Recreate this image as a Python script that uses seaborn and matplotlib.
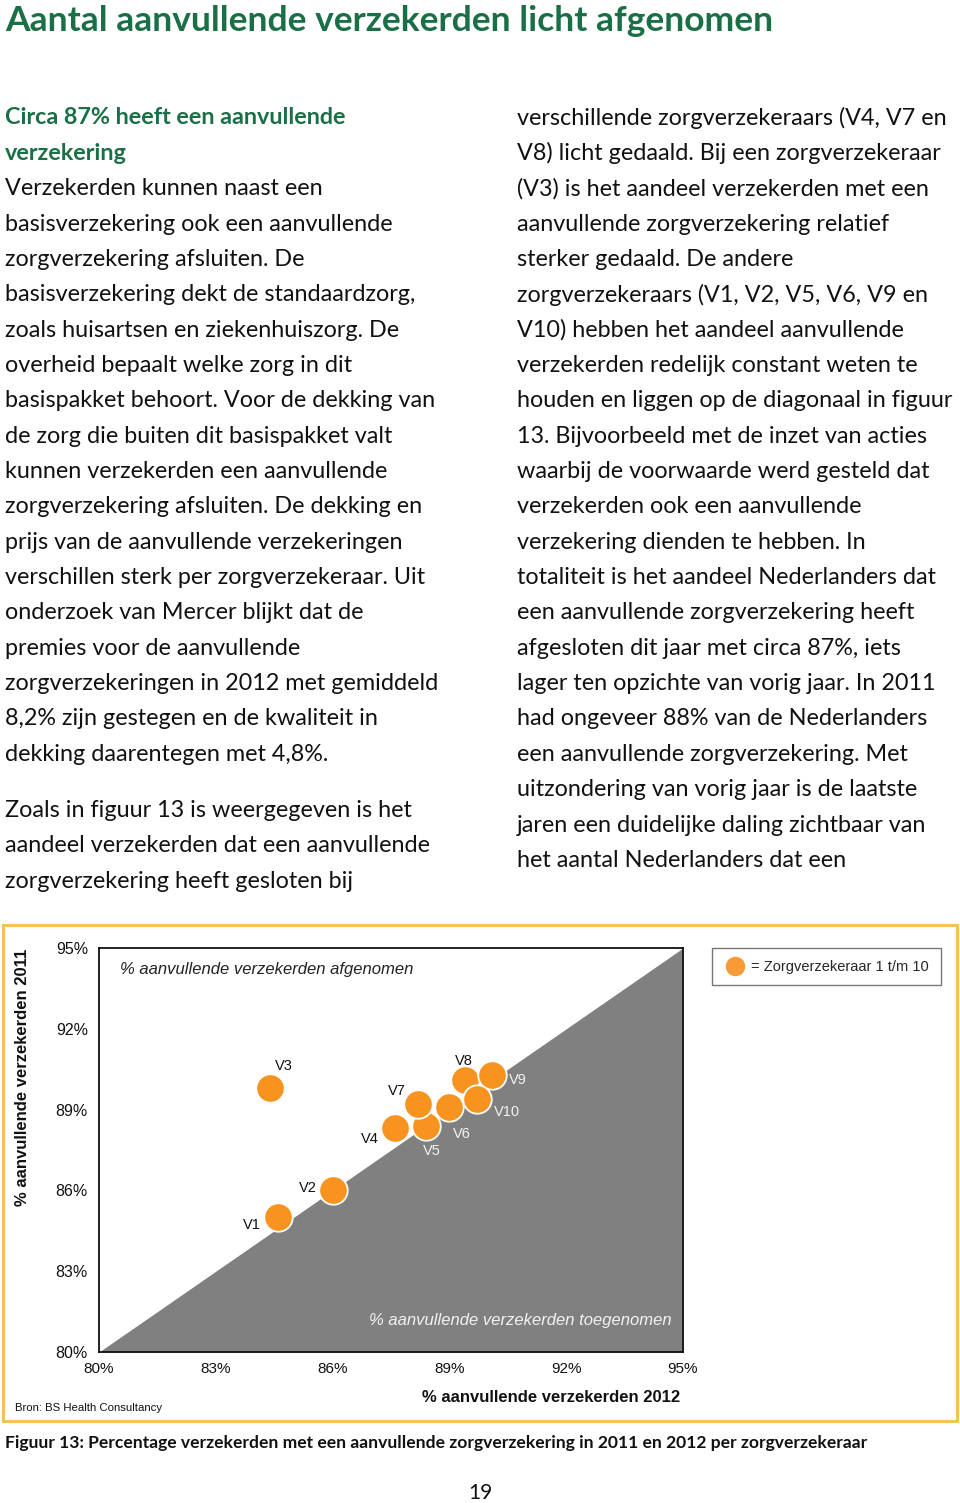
import matplotlib
matplotlib.use("Agg")
import matplotlib.pyplot as plt
from matplotlib.lines import Line2D
from matplotlib.patches import Rectangle
import pandas as pd
import seaborn as sns

# ---- data ----
insurers = ["V1", "V2", "V3", "V4", "V5", "V6", "V7", "V8", "V9", "V10"]
pct_2012 = [84.6, 86.0, 84.4, 87.6, 88.4, 89.0, 88.2, 89.4, 90.1, 89.7]
pct_2011 = [85.0, 86.0, 89.8, 88.3, 88.4, 89.1, 89.2, 90.1, 90.3, 89.4]
tick_values = [80, 83, 86, 89, 92, 95]
tick_labels = ["80%", "83%", "86%", "89%", "92%", "95%"]

title = "Aantal aanvullende verzekerden licht afgenomen"
subhead = ["Circa 87% heeft een aanvullende", "verzekering"]
left_par1 = [
    "Verzekerden kunnen naast een",
    "basisverzekering ook een aanvullende",
    "zorgverzekering afsluiten. De",
    "basisverzekering dekt de standaardzorg,",
    "zoals huisartsen en ziekenhuiszorg. De",
    "overheid bepaalt welke zorg in dit",
    "basispakket behoort. Voor de dekking van",
    "de zorg die buiten dit basispakket valt",
    "kunnen verzekerden een aanvullende",
    "zorgverzekering afsluiten. De dekking en",
    "prijs van de aanvullende verzekeringen",
    "verschillen sterk per zorgverzekeraar. Uit",
    "onderzoek van Mercer blijkt dat de",
    "premies voor de aanvullende",
    "zorgverzekeringen in 2012 met gemiddeld",
    "8,2% zijn gestegen en de kwaliteit in",
    "dekking daarentegen met 4,8%.",
]
left_par2 = [
    "Zoals in figuur 13 is weergegeven is het",
    "aandeel verzekerden dat een aanvullende",
    "zorgverzekering heeft gesloten bij",
]
right_col = [
    "verschillende zorgverzekeraars (V4, V7 en",
    "V8) licht gedaald. Bij een zorgverzekeraar",
    "(V3) is het aandeel verzekerden met een",
    "aanvullende zorgverzekering relatief",
    "sterker gedaald. De andere",
    "zorgverzekeraars (V1, V2, V5, V6, V9 en",
    "V10) hebben het aandeel aanvullende",
    "verzekerden redelijk constant weten te",
    "houden en liggen op de diagonaal in figuur",
    "13. Bijvoorbeeld met de inzet van acties",
    "waarbij de voorwaarde werd gesteld dat",
    "verzekerden ook een aanvullende",
    "verzekering dienden te hebben. In",
    "totaliteit is het aandeel Nederlanders dat",
    "een aanvullende zorgverzekering heeft",
    "afgesloten dit jaar met circa 87%, iets",
    "lager ten opzichte van vorig jaar. In 2011",
    "had ongeveer 88% van de Nederlanders",
    "een aanvullende zorgverzekering. Met",
    "uitzondering van vorig jaar is de laatste",
    "jaren een duidelijke daling zichtbaar van",
    "het aantal Nederlanders dat een",
]
caption = ("Figuur 13: Percentage verzekerden met een aanvullende "
           "zorgverzekering in 2011 en 2012 per zorgverzekeraar")

# label offsets (pixels) and colours for the point labels
label_dx = [-26, -25, 14, -25, 6, 12, -21, -1, 26, 30]
label_dy = [-8, 2, 22, -11, -25, -27, 13, 19, -5, -13]
label_light = [False, False, False, False, True, True, False, False, True, True]

GREEN = "#1b6f46"
ORANGE = "#f7931e"
GREY = "#808080"
BORDER = "#f1c35a"

W, H = 960, 1503


def fx(px):
    return px / W


def fy(py):
    return 1 - py / H


def main():
    sns.set_theme(style="white")
    plt.rcParams["font.family"] = ["Liberation Sans", "DejaVu Sans"]

    fig = plt.figure(figsize=(W / 100, H / 100), dpi=100)
    fig.patch.set_facecolor("white")

    # ---- page text ----
    body = dict(family="Lato", fontsize=16.8, color="#111111", va="center", ha="left")
    fig.text(fx(5), fy(21), title, family="Lato", fontsize=25.5, fontweight="bold",
             color=GREEN, va="center", ha="left")

    step = 35.35
    y = 118
    for line in subhead:
        fig.text(fx(5), fy(y), line, family="Lato", fontsize=16.8, fontweight="bold",
                 color=GREEN, va="center", ha="left")
        y += step
    for line in left_par1:
        fig.text(fx(5), fy(y), line, **body)
        y += step
    y += 56 - step
    for line in left_par2:
        fig.text(fx(5), fy(y), line, **body)
        y += step

    y = 118
    for line in right_col:
        fig.text(fx(517), fy(y), line, **body)
        y += step

    fig.text(fx(5), fy(1443), caption, family="Lato", fontsize=12.6, fontweight="bold",
             color="#111111", va="center", ha="left")
    fig.text(fx(480), fy(1493), "19", family="Lato", fontsize=15, color="#111111",
             va="center", ha="center")

    # ---- chart frame ----
    fig.add_artist(Rectangle((fx(3), fy(1421)), fx(954), 496 / H, transform=fig.transFigure,
                             fill=False, edgecolor=BORDER, linewidth=2.2))

    ax = fig.add_axes([fx(99), fy(1352), fx(584), 404 / H])
    ax.set_facecolor("white")

    lo, hi = tick_values[0], tick_values[-1]
    ax.fill_between([lo, hi], [lo, hi], lo, color=GREY, linewidth=0, zorder=1)

    df = pd.DataFrame({"insurer": insurers, "y2012": pct_2012, "y2011": pct_2011})
    sns.scatterplot(data=df, x="y2012", y="y2011", ax=ax, s=420, color=ORANGE,
                    edgecolor="white", linewidth=1.3, legend=False, zorder=3)

    for name, xv, yv, dx, dy, light in zip(insurers, pct_2012, pct_2011,
                                            label_dx, label_dy, label_light):
        ax.annotate(name, (xv, yv), xytext=(dx, dy), textcoords="offset pixels",
                    ha="center", va="center", fontsize=10.5,
                    color="#f2f2f2" if light else "#111111", zorder=4)

    ax.set_xlim(lo, hi)
    ax.set_ylim(lo, hi)
    ax.set_xticks(tick_values)
    ax.set_xticklabels(tick_labels)
    ax.set_yticks(tick_values)
    ax.set_yticklabels(tick_labels)
    ax.tick_params(axis="x", direction="in", length=7, width=1, colors="white",
                   labelcolor="#111111", labelsize=11, pad=7)
    ax.tick_params(axis="y", direction="in", length=7, width=1, colors="#111111",
                   labelsize=11.5, pad=8)
    for side in ["left", "bottom", "top", "right"]:
        ax.spines[side].set_visible(True)
        ax.spines[side].set_color("#111111")
        ax.spines[side].set_linewidth(1.3)
        ax.spines[side].set_zorder(5)

    ax.set_xlabel("")
    ax.set_ylabel("")
    ax.text(0.036, 0.946, "% aanvullende verzekerden afgenomen", transform=ax.transAxes,
            style="italic", fontsize=12, color="#222222", ha="left", va="center")
    ax.text(0.98, 0.077, "% aanvullende verzekerden toegenomen", transform=ax.transAxes,
            style="italic", fontsize=12, color="#f2f2f2", ha="right", va="center")

    fig.text(fx(551), fy(1397), "% aanvullende verzekerden 2012", fontsize=12,
             fontweight="bold", color="#111111", ha="center", va="center")
    fig.text(fx(23), fy(1077), "% aanvullende verzekerden 2011", fontsize=12,
             fontweight="bold", color="#111111", ha="center", va="center", rotation=90)
    fig.text(fx(15), fy(1408), "Bron: BS Health Consultancy", fontsize=8.2,
             color="#111111", ha="left", va="center")

    handle = Line2D([], [], marker="o", linestyle="", markersize=13,
                    markerfacecolor="#f89a35", markeredgecolor="#f89a35")
    leg = fig.legend([handle], ["= Zorgverzekeraar 1 t/m 10"], loc="upper left",
                     bbox_to_anchor=(fx(712), fy(948)), borderaxespad=0,
                     frameon=True, fancybox=False, fontsize=10.5, handletextpad=0.3,
                     borderpad=0.8, handlelength=1.6)
    leg.get_frame().set_edgecolor("#555555")
    leg.get_frame().set_linewidth(1.0)

    fig.savefig("out.png", dpi=100)
    print("saved out.png")


if __name__ == "__main__":
    main()
